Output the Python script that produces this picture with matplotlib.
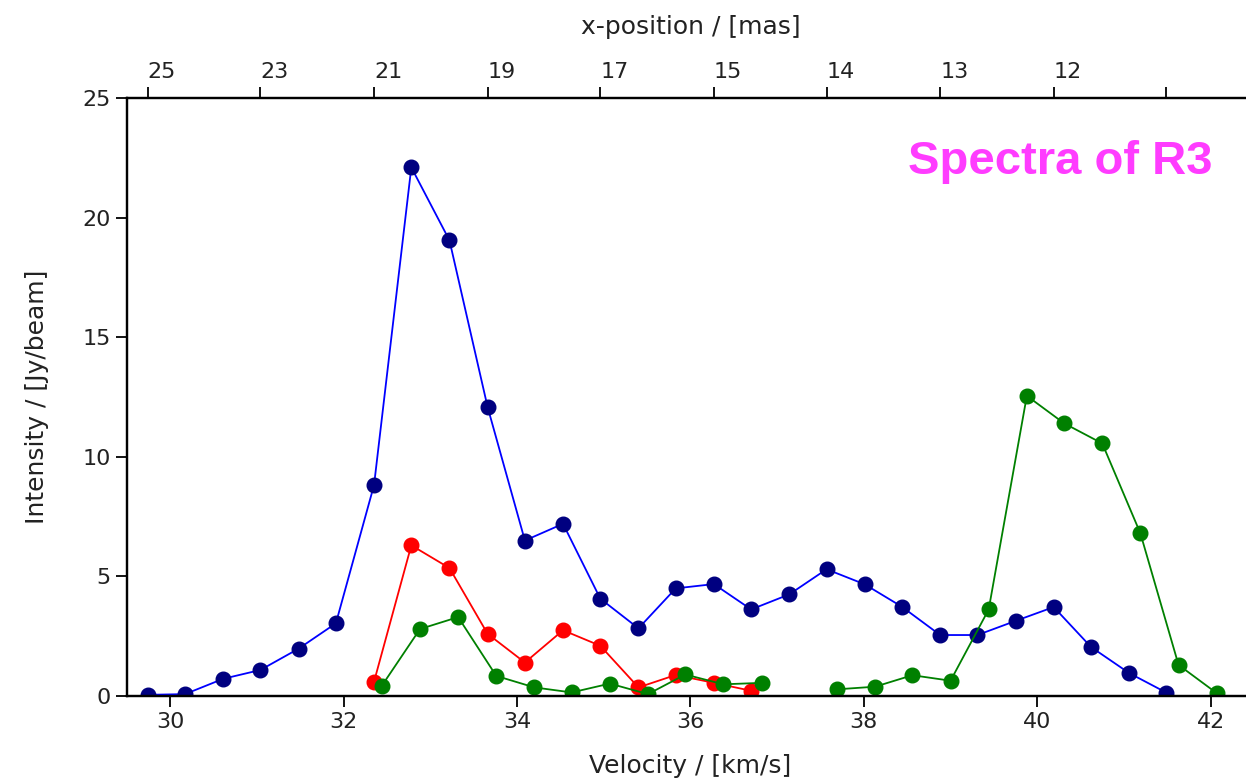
import numpy as np
from matplotlib import pyplot as plt

# channel velocities (km/s) and intensities (Jy/beam)
vel_blue = [29.74, 30.17, 30.61, 31.04, 31.48, 31.91, 32.35, 32.78, 33.22, 33.66,
            34.09, 34.53, 34.96, 35.40, 35.83, 36.27, 36.70, 37.14, 37.57, 38.01,
            38.44, 38.88, 39.31, 39.75, 40.19, 40.62, 41.06, 41.49]
int_blue = [0.05, 0.08, 0.72, 1.09, 1.98, 3.04, 8.82, 22.1, 19.05, 12.08,
            6.5, 7.2, 4.07, 2.83, 4.5, 4.68, 3.62, 4.25, 5.3, 4.67,
            3.73, 2.55, 2.55, 3.14, 3.72, 2.05, 0.96, 0.14]

vel_red = [32.35, 32.78, 33.22, 33.66, 34.09, 34.53, 34.96, 35.40, 35.83, 36.27, 36.70]
int_red = [0.6, 6.3, 5.35, 2.6, 1.4, 2.75, 2.1, 0.36, 0.88, 0.55, 0.22]

# channel at 37.25 has no detection -> gap in the line
vel_green = [32.44, 32.88, 33.32, 33.76, 34.20, 34.63, 35.07, 35.51, 35.94, 36.38,
             36.82, 37.25, 37.69, 38.13, 38.56, 39.00, 39.44, 39.88, 40.31, 40.75,
             41.19, 41.63, 42.07]
int_green = [0.43, 2.8, 3.3, 0.84, 0.36, 0.15, 0.52, 0.08, 0.9, 0.49,
             0.55, np.nan, 0.28, 0.39, 0.87, 0.64, 3.62, 12.55, 11.4, 10.56,
             6.8, 1.3, 0.12]

# x-position of every third channel
pos_ticks = [29.74, 31.04, 32.35, 33.66, 34.96, 36.27, 37.57, 38.88, 40.19, 41.49]
pos_labels = ['25', '23', '21', '19', '17', '15', '14', '13', '12', '']

plt.rcParams['font.family'] = 'DejaVu Sans'
fig = plt.figure(figsize=(12.46, 7.81), dpi=100)
ax = fig.add_axes([0.1019, 0.1088, 0.9045, 0.7657])

ax.plot(vel_blue, int_blue, '-', color='#0000ff', lw=1.3, marker='o', ms=10.5,
        mfc='#000080', mec='#000080')
ax.plot(vel_red, int_red, '-', color='#ff0000', lw=1.3, marker='o', ms=10.5,
        mfc='#ff0000', mec='#ff0000')
ax.plot(vel_green, int_green, '-', color='#008000', lw=1.3, marker='o', ms=10.5,
        mfc='#008000', mec='#008000')

ax.set_xlim(29.5, 42.5)
ax.set_ylim(0, 25)
ax.set_xticks([30, 32, 34, 36, 38, 40, 42])
ax.set_yticks([0, 5, 10, 15, 20, 25])
ax.tick_params(direction='out', length=8, width=1.3, labelsize=16,
               labelcolor='#222222', top=False, right=False)
ax.set_xlabel('Velocity / [km/s]', fontsize=18, color='#222222', labelpad=16)
ax.set_ylabel('Intensity / [Jy/beam]', fontsize=18, color='#222222', labelpad=24)
for s in ax.spines.values():
    s.set_linewidth(1.6)

top = ax.twiny()
top.set_xlim(ax.get_xlim())
top.set_xticks(pos_ticks)
top.set_xticklabels(pos_labels, ha='left')
top.tick_params(direction='out', length=8, width=1.3, labelsize=16,
                labelcolor='#222222')
top.set_xlabel('x-position / [mas]', fontsize=18, color='#222222', labelpad=20)
for s in top.spines.values():
    s.set_linewidth(1.6)

ax.text(0.9636, 0.893, 'Spectra of R3', transform=ax.transAxes, ha='right',
        va='center', fontsize=34, fontweight='bold', color='#ff3cff',
        family='Liberation Sans')

fig.savefig('out.png', dpi=100)
